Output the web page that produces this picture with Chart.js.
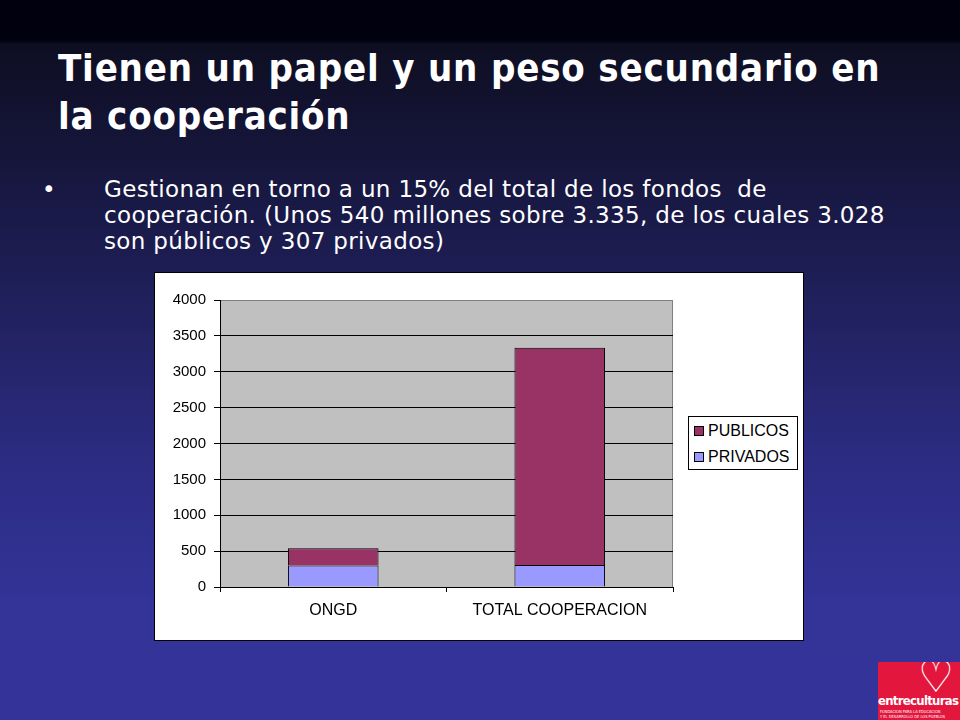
<!DOCTYPE html>
<html>
<head>
<meta charset="utf-8">
<script src="https://cdn.jsdelivr.net/npm/chart.js@4/dist/chart.umd.min.js"></script>
<style>
    html, body { margin: 0; padding: 0; }
    body {
        width: 960px; height: 720px; overflow: hidden; position: relative;
        background: linear-gradient(to bottom, #00000e 0px, #00000e 40px, #0e0e22 44px, #1c1c50 250px, #2b2b80 450px, #333398 600px, #333399 720px);
        font-family: 'DejaVu Sans Condensed', 'DejaVu Sans', sans-serif;
        color: #fff;
    }
    .title {
        position: absolute; left: 58px; top: 44px; width: 900px;
        font-size: 38px; font-weight: bold; line-height: 48px; letter-spacing: 0.8px;
        white-space: nowrap;
    }
    .bullet {
        position: absolute; left: 104px; top: 176px; width: 850px;
        font-family: 'DejaVu Sans', sans-serif;
        font-size: 23px; line-height: 26px; letter-spacing: 0.35px; white-space: nowrap;
    }
    .bullet::before {
        content: '•'; position: absolute; left: -62px; top: 0;
    }
    .chart-box {
        position: absolute; left: 154px; top: 272px; width: 648px; height: 367px;
        background: #fff; border: 1px solid #000;
    }
    #legend {
        position: absolute; left: 533px; top: 143px; width: 108px;
        border: 1px solid #000; background: #fff;
        font-family: 'Liberation Sans', Arial, sans-serif; font-size: 16px; color: #000;
    }
    #legend div { height: 26px; line-height: 27px; padding-left: 5px; white-space: nowrap; }
    #legend span {
        display: inline-block; width: 8px; height: 8px; border: 1px solid #000;
        margin-right: 4px; vertical-align: 0px;
    }
    .logo {
        position: absolute; left: 878px; top: 662px; width: 82px; height: 58px;
        background: #e3173d; color: #fff; overflow: hidden;
        font-family: 'DejaVu Sans Condensed', sans-serif;
    }
    .logo u { position: absolute; left: 40px; top: -10px; font-size: 44px; text-decoration: none; line-height: 50px; }
    .logo b { position: absolute; left: 0px; top: 31px; font-size: 13px; letter-spacing: -0.7px; }
    .logo i { position: absolute; left: 2px; top: 47px; font-size: 4px; font-style: normal; line-height: 5px; }
</style>
</head>
<body>
<div class="title">Tienen un papel y un peso secundario en<br>la cooperación</div>
<div class="bullet">Gestionan en torno a un 15% del total de los fondos&nbsp; de<br>cooperación. (Unos 540 millones sobre 3.335, de los cuales 3.028<br>son públicos y 307 privados)</div>
<div class="chart-box">
    <canvas id="chart" width="648" height="367"></canvas>
    <div id="legend"></div>
</div>
<div class="logo"><u>♡</u><b>entreculturas</b><i>FUNDACION PARA LA EDUCACION<br>Y EL DESARROLLO DE LOS PUEBLOS</i></div>
<script>
const categories = ['ONGD', 'TOTAL COOPERACION'];
const privados = [300, 307];
const publicos = [240, 3028];
const yTicks = [0, 500, 1000, 1500, 2000, 2500, 3000, 3500, 4000];

// gray plot area like the old Excel charts
const plotBackground = {
    id: 'plotBackground',
    beforeDraw(chart) {
        const { ctx, chartArea: a } = chart;
        ctx.save();
        ctx.fillStyle = '#c0c0c0';
        ctx.fillRect(a.left, a.top, a.right - a.left, a.bottom - a.top);
        ctx.strokeStyle = '#808080';
        ctx.lineWidth = 1;
        ctx.strokeRect(a.left + 0.5, a.top + 0.5, a.right - a.left - 1, a.bottom - a.top);
        ctx.restore();
    }
};

const chart = new Chart(document.getElementById('chart'), {
    type: 'bar',
    data: {
        labels: categories,
        datasets: [
            { label: 'PRIVADOS', data: privados, backgroundColor: '#9999ff' },
            { label: 'PUBLICOS', data: publicos, backgroundColor: '#993366' }
        ]
    },
    options: {
        responsive: false,
        animation: false,
        layout: { padding: { top: 27, right: 130, left: 0, bottom: 0 } },
        datasets: {
            bar: {
                borderColor: '#000',
                borderWidth: 1,
                barPercentage: 0.4,
                categoryPercentage: 1
            }
        },
        plugins: {
            legend: { display: false },
            tooltip: { enabled: false }
        },
        scales: {
            x: {
                stacked: true,
                grid: { offset: true, drawOnChartArea: false, color: '#000', tickLength: 5 },
                border: { color: '#000' },
                ticks: { color: '#000', padding: 9, font: { family: 'Liberation Sans', size: 16 } },
                afterFit: s => { s.height = 53; }
            },
            y: {
                stacked: true,
                min: 0,
                max: 4000,
                afterBuildTicks: s => { s.ticks = yTicks.map(v => ({ value: v })); },
                grid: {
                    color: c => c.tick && c.tick.value === 4000 ? '#808080' : '#000',
                    tickColor: '#000',
                    tickLength: 6
                },
                border: { color: '#000' },
                ticks: {
                    color: '#000', padding: 8,
                    font: { family: 'Liberation Sans', size: 15 },
                    callback: v => String(v)
                },
                afterFit: s => { s.width = 65; }
            }
        }
    },
    plugins: [plotBackground]
});

// legend: PUBLICOS on top, as stacked
const legend = document.getElementById('legend');
chart.data.datasets.slice().reverse().forEach(ds => {
    const row = document.createElement('div');
    row.innerHTML = `<span style="background:${ds.backgroundColor}"></span>${ds.label}`;
    legend.appendChild(row);
});
</script>
</body>
</html>
